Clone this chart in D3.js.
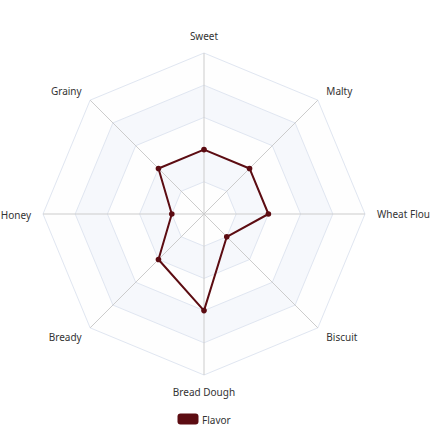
<!DOCTYPE html>
<html>
<head>
<meta charset="utf-8">
<script src="https://cdn.jsdelivr.net/npm/d3@7"></script>
<style>
  html, body { margin: 0; padding: 0; background: #fff; }
  text { font-family: "Noto Sans", "DejaVu Sans", sans-serif; }
</style>
</head>
<body>
<div id="chart"></div>
<script>
const AXES = ["Sweet", "Malty", "Wheat Flour", "Biscuit", "Bread Dough", "Bready", "Honey", "Grainy"];
const FLAVOR = [4, 4, 4, 2, 6, 4, 2, 4];
const MAX_VALUE = 10;
const LEVELS = [1, 2, 3, 4, 5];
const SERIES_NAME = "Flavor";

const W = 430, H = 430;
const CX = 204, CY = 214, R = 161;
const COLOR = "#5c0c12";

const svg = d3.select("#chart").append("svg")
  .attr("width", W)
  .attr("height", H);

// angle for each axis, starting at top, clockwise
const angle = d3.scaleLinear()
  .domain([0, AXES.length])
  .range([-Math.PI / 2, 1.5 * Math.PI]);

const rScale = d3.scaleLinear()
  .domain([0, MAX_VALUE])
  .range([0, R]);

const levelScale = d3.scaleLinear()
  .domain([0, LEVELS.length])
  .range([0, R]);

const ringPoints = rad => AXES.map((_, i) => [
  CX + rad * Math.cos(angle(i)),
  CY + rad * Math.sin(angle(i))
]);

const line = d3.line().curve(d3.curveLinearClosed);

// split areas, alternating, drawn outermost first
const areaColors = ["rgba(250,250,250,0.2)", "rgba(210,219,238,0.2)"];
const grid = svg.append("g").attr("class", "grid");

LEVELS.slice().reverse().forEach(lv => {
  const outer = ringPoints(levelScale(lv));
  const inner = ringPoints(levelScale(lv - 1));
  let d = line(outer);
  if (lv > 1) d += line(inner.slice().reverse());
  grid.append("path")
    .attr("d", d)
    .attr("fill", areaColors[(lv - 1) % 2])
    .attr("fill-rule", "evenodd");
});

// split lines
LEVELS.forEach(lv => {
  grid.append("path")
    .attr("d", line(ringPoints(levelScale(lv))))
    .attr("fill", "none")
    .attr("stroke", "#e0e6f1")
    .attr("stroke-width", 1);
});

// axis lines
grid.selectAll("line.axis")
  .data(AXES)
  .enter()
  .append("line")
  .attr("class", "axis")
  .attr("x1", CX)
  .attr("y1", CY)
  .attr("x2", (_, i) => CX + R * Math.cos(angle(i)))
  .attr("y2", (_, i) => CY + R * Math.sin(angle(i)))
  .attr("stroke", "#cccccc")
  .attr("stroke-width", 1);

// axis names
svg.append("g").selectAll("text")
  .data(AXES)
  .enter()
  .append("text")
  .text(d => d)
  .attr("x", (_, i) => CX + (R + 12) * Math.cos(angle(i)))
  .attr("y", (_, i) => {
    const s = Math.sin(angle(i));
    const extra = Math.abs(s) > 0.9 ? 5 * Math.sign(s) : Math.sign(s) * 1;
    return CY + (R + 12) * s + extra;
  })
  .attr("text-anchor", (_, i) => {
    const c = Math.cos(angle(i));
    return Math.abs(c) < 0.01 ? "middle" : (c > 0 ? "start" : "end");
  })
  .attr("dominant-baseline", "central")
  .attr("font-size", 10)
  .attr("fill", "#333");

// data polygon
const pts = FLAVOR.map((v, i) => [
  CX + rScale(v) * Math.cos(angle(i)),
  CY + rScale(v) * Math.sin(angle(i))
]);

svg.append("path")
  .attr("d", line(pts))
  .attr("fill", "none")
  .attr("stroke", COLOR)
  .attr("stroke-width", 2)
  .attr("stroke-linejoin", "round");

svg.append("g").selectAll("circle")
  .data(pts)
  .enter()
  .append("circle")
  .attr("cx", d => d[0])
  .attr("cy", d => d[1])
  .attr("r", 2.8)
  .attr("fill", COLOR);

// legend
const legend = svg.append("g").attr("class", "legend");
legend.append("rect")
  .attr("x", 177.5)
  .attr("y", 413.5)
  .attr("width", 21)
  .attr("height", 11)
  .attr("rx", 3)
  .attr("fill", COLOR);
legend.append("text")
  .text(SERIES_NAME)
  .attr("x", 202)
  .attr("y", 419.5)
  .attr("dominant-baseline", "central")
  .attr("font-size", 10)
  .attr("fill", "#333");
</script>
</body>
</html>
